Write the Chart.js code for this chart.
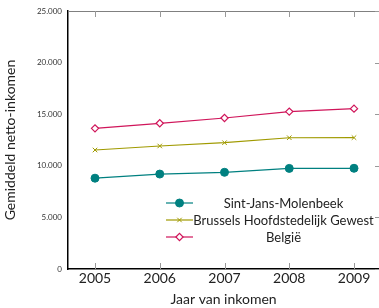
<!DOCTYPE html>
<html><head><meta charset="utf-8">
<script src="https://cdn.jsdelivr.net/npm/chart.js@4/dist/chart.umd.min.js"></script>
<style>html,body{margin:0;padding:0;background:#fff;overflow:hidden}#wrap{width:379px;height:308px;position:relative}</style>
</head><body><div id="wrap"><canvas id="c"></canvas></div>
<script>
const years = [2005, 2006, 2007, 2008, 2009];
const sintJans = [8800, 9200, 9370, 9750, 9760];
const brussel = [11530, 11920, 12240, 12720, 12730];
const belgie = [13630, 14120, 14630, 15250, 15540];
const yTicks = [0, 5000, 10000, 15000, 20000, 25000];
const seriesNames = ['Sint-Jans-Molenbeek', 'Brussels Hoofdstedelijk Gewest', 'België'];

const FONT = 'Lato, "DejaVu Sans", sans-serif';
const fmt = v => v === 0 ? '0' : v.toLocaleString('de-DE');

const pts = arr => years.map((y, i) => ({x: y, y: arr[i]}));

const innerTicks = {
  id: 'innerTicks',
  afterDraw(chart) {
    const {ctx, chartArea: a, scales: {x, y}} = chart;
    ctx.save();
    ctx.strokeStyle = '#808080';
    ctx.lineWidth = 1;
    ctx.beginPath();
    ctx.moveTo(a.left, a.top + 0.5); ctx.lineTo(a.right, a.top + 0.5);
    ctx.stroke();
    ctx.strokeStyle = '#999';
    ctx.beginPath();
    years.forEach(v => {
      const px = Math.round(x.getPixelForValue(v)) + 0.5;
      ctx.moveTo(px, a.top); ctx.lineTo(px, a.top + 6);
      ctx.moveTo(px, a.bottom); ctx.lineTo(px, a.bottom - 6);
    });
    yTicks.forEach(v => {
      const py = Math.round(y.getPixelForValue(v)) + 0.5;
      ctx.moveTo(a.right, py); ctx.lineTo(a.right - 4, py);
    });
    ctx.stroke();
    // legend
    const rows = [203, 220, 237];
    const x0 = 166, x1 = 193, cx = 283.5;
    chart.data.datasets.forEach((ds, i) => {
      const ry = rows[i];
      ctx.strokeStyle = ds.borderColor;
      ctx.lineWidth = ds.borderWidth;
      ctx.beginPath(); ctx.moveTo(x0, ry); ctx.lineTo(x1, ry); ctx.stroke();
      ctx.fillStyle = ds.pointBackgroundColor;
      ctx.strokeStyle = ds.borderColor;
      ctx.lineWidth = ds.pointBorderWidth || 1;
      const fake = {pointStyle: ds.pointStyle, radius: ds.pointRadius, borderWidth: ds.pointBorderWidth || 1, rotation: 0};
      Chart.helpers.drawPoint(ctx, fake, (x0 + x1) / 2, ry);
      ctx.fillStyle = '#222';
      ctx.font = '13px ' + FONT;
      ctx.textAlign = 'center';
      ctx.textBaseline = 'middle';
      ctx.fillText(ds.label, cx, ry + 0.5);
    });
    ctx.restore();
  }
};

new Chart(document.getElementById('c'), {
  type: 'line',
  data: {
    datasets: [
      {label: seriesNames[0], data: pts(sintJans), borderColor: '#008080', backgroundColor: '#008080',
       pointBackgroundColor: '#008080', pointBorderColor: '#008080', pointStyle: 'circle', pointRadius: 4, pointBorderWidth: 1, borderWidth: 1.2},
      {label: seriesNames[1], data: pts(brussel), borderColor: '#a09a00', backgroundColor: '#a09a00',
       pointBackgroundColor: '#a09a00', pointBorderColor: '#a09a00', pointStyle: 'crossRot', pointRadius: 3.2, pointBorderWidth: 1, borderWidth: 1.2},
      {label: seriesNames[2], data: pts(belgie), borderColor: '#d0155a', backgroundColor: '#ffffff',
       pointBackgroundColor: '#ffffff', pointBorderColor: '#d0155a', pointStyle: 'rectRot', pointRadius: 3.6, pointBorderWidth: 1.2, borderWidth: 1.2}
    ]
  },
  options: {
    responsive: true, maintainAspectRatio: false, animation: false,
    layout: {autoPadding: false, padding: {top: 11, right: 0, left: 0, bottom: 0}},
    plugins: {legend: {display: false}, tooltip: {enabled: false}},
    scales: {
      x: {
        type: 'linear', min: 2004.583, max: 2009.386,
        afterBuildTicks: s => { s.ticks = years.map(v => ({value: v})); },
        afterFit: s => { s.height = 39; s.paddingRight = 0; s.paddingLeft = 0; },
        grid: {display: false, drawTicks: false},
        border: {display: true, color: '#000', width: 1.5},
        ticks: {color: '#222', font: {family: FONT, size: 14}, padding: 1, callback: v => String(v), maxRotation: 0, autoSkip: false},
        title: {display: true, text: 'Jaar van inkomen', color: '#222', font: {family: FONT, size: 14}, padding: {top: 5, bottom: 0}}
      },
      y: {
        min: 0, max: 25000,
        afterBuildTicks: s => { s.ticks = yTicks.map(v => ({value: v})); },
        afterFit: s => { s.width = 68; },
        grid: {display: false, drawTicks: false},
        border: {display: true, color: '#000', width: 1.5},
        ticks: {color: '#333', font: {family: FONT, size: 8}, padding: 6, callback: v => fmt(v)},
        title: {display: true, text: 'Gemiddeld netto-inkomen', color: '#222', font: {family: FONT, size: 14}, padding: {top: 2, bottom: 4}}
      }
    }
  },
  plugins: [innerTicks]
});
</script></body></html>
